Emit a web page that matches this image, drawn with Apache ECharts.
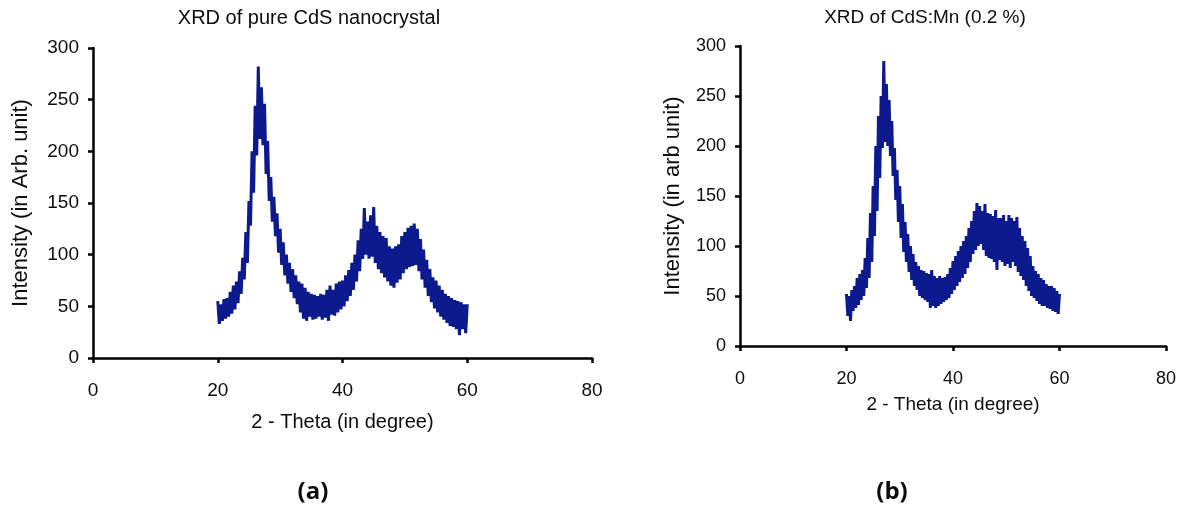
<!DOCTYPE html>
<html>
<head>
<meta charset="utf-8">
<script src="https://cdn.jsdelivr.net/npm/echarts@6/dist/echarts.min.js"></script>
<style>
  html, body { margin: 0; padding: 0; background: #ffffff; }
  #chart { width: 1191px; height: 515px; }
</style>
</head>
<body>
<div id="chart"></div>
<script>
// XRD scan: 2-theta from 20 to 60 degrees, 0.25 degree step
const THETA_START = 20;
const THETA_STEP = 0.25;

// Intensity (arb. unit), pure CdS nanocrystal
const intensityPure = [
  55, 33, 52, 36, 57, 38, 58, 40, 64, 43, 70, 47, 74, 53, 84, 62,
  97, 76, 122, 92, 152, 128, 200, 160, 244, 196, 282, 212, 262, 206, 246, 178,
  210, 152, 175, 132, 156, 118, 140, 102, 125, 90, 112, 80, 100, 72, 92, 64,
  86, 58, 80, 52, 74, 44, 72, 38, 68, 36, 64, 40, 62, 37, 61, 38,
  60, 40, 62, 37, 61, 39, 66, 36, 70, 42, 66, 41, 72, 44, 74, 47,
  75, 50, 80, 55, 85, 60, 92, 66, 100, 74, 114, 84, 125, 96, 145, 100,
  132, 96, 138, 98, 146, 92, 128, 86, 122, 82, 118, 78, 116, 74, 108, 70,
  106, 68, 108, 73, 110, 76, 118, 82, 122, 86, 126, 88, 128, 89, 130, 90,
  125, 84, 115, 76, 105, 68, 95, 60, 86, 54, 78, 48, 75, 44, 70, 40,
  66, 37, 62, 34, 60, 31, 58, 30, 56, 28, 55, 22, 54, 28, 52, 24,
  52
];

// Intensity (arb. unit), CdS:Mn (0.2 %)
const intensityMn = [
  52, 30, 50, 25, 56, 35, 60, 38, 68, 41, 72, 46, 76, 50, 88, 58,
  108, 68, 133, 84, 160, 110, 200, 135, 230, 168, 250, 198, 285, 204, 262, 200,
  246, 190, 225, 170, 198, 146, 176, 124, 160, 108, 142, 94, 124, 84, 112, 74,
  100, 66, 92, 60, 84, 56, 80, 50, 76, 48, 75, 46, 73, 44, 72, 38,
  76, 40, 70, 38, 68, 40, 70, 42, 68, 44, 69, 46, 72, 48, 78, 52,
  85, 56, 90, 60, 95, 64, 100, 68, 105, 72, 110, 78, 118, 84, 125, 92,
  135, 96, 143, 100, 140, 102, 135, 96, 142, 90, 133, 88, 132, 87, 130, 84,
  136, 76, 128, 86, 128, 84, 131, 80, 125, 82, 131, 78, 128, 84, 125, 80,
  129, 74, 118, 70, 110, 66, 105, 60, 98, 55, 90, 50, 80, 48, 75, 45,
  72, 42, 68, 40, 66, 40, 62, 38, 60, 37, 60, 35, 58, 34, 55, 32,
  52
];

const xTicks = { min: 0, max: 80, interval: 20 };
const yTicks = { min: 0, max: 300, interval: 50 };

const titles = ['XRD of pure CdS nanocrystal', 'XRD of CdS:Mn (0.2 %)'];
const yNames = ['Intensity (in Arb. unit)', 'Intensity (in arb unit)'];
const xName = '2 - Theta (in degree)';
const panelTags = ['(a)', '(b)'];

function pairs(values) {
  return values.map((v, i) => [THETA_START + i * THETA_STEP, v]);
}

const FONT = '"Liberation Sans", Arial, sans-serif';
const TEXT = '#0d0d0d';
const LINE_COLOR = '#0c1a8e';

// per-panel layout: [pure CdS, CdS:Mn]
const panels = [
  { grid: { left: 93, top: 48, width: 499, height: 310 }, titleX: 304, titleSize: 20,
    tickSize: 19, xLabelMargin: 23, xNameGap: 54, yNameGap: 61, nameSize: 20, yNameSize: 22, tagX: 313 },
  { grid: { left: 740, top: 46, width: 426, height: 300 }, titleX: 920, titleSize: 19,
    tickSize: 18, xLabelMargin: 24, xNameGap: 49, yNameGap: 56, nameSize: 19, yNameSize: 22, tagX: 892 }
];

const axisLine = { show: true, lineStyle: { color: '#000', width: 2.5 } };
const axisTick = { show: true, inside: false, length: 5, lineStyle: { color: '#000', width: 2.5 } };

const chart = echarts.init(document.getElementById('chart'), null, { renderer: 'canvas' });

chart.setOption({
  animation: false,
  backgroundColor: '#ffffff',
  title: panels.map((p, i) => ({
    text: titles[i], left: p.titleX, top: 3, textAlign: 'center',
    textStyle: { fontFamily: FONT, fontSize: p.titleSize, fontWeight: 'normal', color: TEXT }
  })),
  grid: panels.map(p => p.grid),
  xAxis: panels.map((p, i) => ({
    type: 'value', gridIndex: i,
    min: xTicks.min, max: xTicks.max, interval: xTicks.interval,
    axisLine, axisTick, splitLine: { show: false },
    axisLabel: { color: TEXT, fontFamily: FONT, fontSize: p.tickSize, margin: p.xLabelMargin },
    name: xName, nameLocation: 'middle', nameGap: p.xNameGap,
    nameTextStyle: { fontFamily: FONT, fontSize: p.nameSize, color: TEXT }
  })),
  yAxis: panels.map((p, i) => ({
    type: 'value', gridIndex: i,
    min: yTicks.min, max: yTicks.max, interval: yTicks.interval,
    axisLine, axisTick, splitLine: { show: false },
    axisLabel: { color: TEXT, fontFamily: FONT, fontSize: p.tickSize, margin: 14 },
    name: yNames[i], nameLocation: 'middle', nameGap: p.yNameGap,
    nameTextStyle: { fontFamily: FONT, fontSize: p.yNameSize, color: TEXT }
  })),
  series: [intensityPure, intensityMn].map((vals, i) => ({
    type: 'line', xAxisIndex: i, yAxisIndex: i, data: pairs(vals),
    showSymbol: false, symbol: 'none', sampling: null,
    lineStyle: { color: LINE_COLOR, width: 3, join: 'bevel' }
  })),
  graphic: panels.map((p, i) => ({
    type: 'text', x: p.tagX, y: 492,
    style: { text: panelTags[i], fill: TEXT, textAlign: 'center', textVerticalAlign: 'middle',
      font: 'bold 24px "Open Sans", "DejaVu Sans", sans-serif' }
  }))
});
</script>
</body>
</html>
